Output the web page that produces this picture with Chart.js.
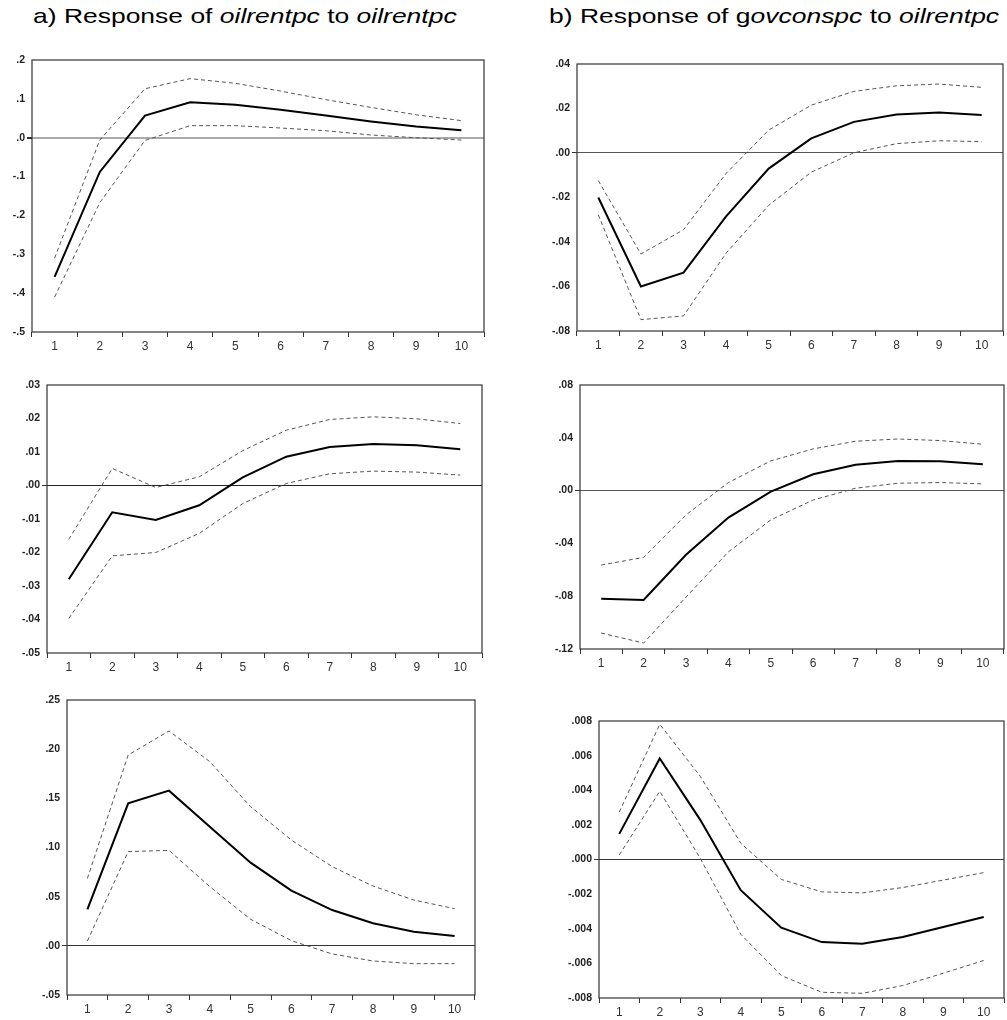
<!DOCTYPE html>
<html>
<head>
<meta charset="utf-8">
<script src="https://cdn.jsdelivr.net/npm/chart.js@4/dist/chart.umd.min.js"></script>
<style>
  body { margin: 0; background: #fff; width: 1007px; height: 1020px; position: relative; overflow: hidden; }
  .title { position: absolute; top: 5px; font: 21px/22px "Liberation Sans", Arial, sans-serif; color: #000;
           white-space: nowrap; transform: scaleX(1.26); transform-origin: 0 0; }
  canvas { position: absolute; }
</style>
</head>
<body>
<div class="title" style="left:33px">a) Response of <i>oilrentpc</i> to <i>oilrentpc</i></div>
<div class="title" style="left:549px">b) Response of g<i>ovconspc</i> to <i>oilrentpc</i></div>

<canvas id="c1"></canvas>
<canvas id="c2"></canvas>
<canvas id="c3"></canvas>
<canvas id="c4"></canvas>
<canvas id="c5"></canvas>
<canvas id="c6"></canvas>

<script>
const periods = ["1", "2", "3", "4", "5", "6", "7", "8", "9", "10"];

// top-left: oilrentpc -> oilrentpc
const irf1 = [-0.358, -0.088, 0.057, 0.091, 0.085, 0.072, 0.057, 0.042, 0.029, 0.019];
const up1 = [-0.31, -0.006, 0.126, 0.152, 0.14, 0.12, 0.098, 0.078, 0.059, 0.044];
const lo1 = [-0.41, -0.167, -0.007, 0.031, 0.031, 0.025, 0.018, 0.007, 0.0, -0.006];

// top-right: govconspc -> oilrentpc
const irf2 = [-0.020, -0.060, -0.0538, -0.0285, -0.007, 0.0066, 0.014, 0.0173, 0.0182, 0.0171];
const up2 = [-0.0124, -0.0454, -0.0345, -0.0092, 0.0103, 0.0215, 0.0277, 0.0302, 0.031, 0.0295];
const lo2 = [-0.0278, -0.0749, -0.0732, -0.045, -0.0235, -0.0086, 0.0001, 0.0042, 0.0055, 0.0051];

// middle-left
const irf3 = [-0.028, -0.008, -0.0103, -0.0059, 0.0024, 0.0086, 0.0115, 0.0124, 0.012, 0.0108];
const up3 = [-0.0161, 0.0051, -0.0006, 0.0026, 0.0104, 0.0165, 0.0197, 0.0205, 0.0199, 0.0185];
const lo3 = [-0.0397, -0.021, -0.020, -0.0143, -0.0054, 0.0006, 0.0035, 0.0043, 0.004, 0.0031];

// middle-right
const irf4 = [-0.0819, -0.0829, -0.0486, -0.0204, -0.0007, 0.0124, 0.0195, 0.0225, 0.0222, 0.020];
const up4 = [-0.0564, -0.0506, -0.0184, 0.0061, 0.0225, 0.0316, 0.0374, 0.0391, 0.0379, 0.0351];
const lo4 = [-0.1079, -0.1155, -0.0807, -0.0464, -0.0222, -0.0071, 0.0018, 0.0056, 0.0061, 0.0051];

// bottom-left
const irf5 = [0.0371, 0.1449, 0.1578, 0.1212, 0.0846, 0.0561, 0.0364, 0.0229, 0.0144, 0.010];
const up5 = [0.0686, 0.1941, 0.2185, 0.1873, 0.1415, 0.1076, 0.0805, 0.0608, 0.0466, 0.0378];
const lo5 = [0.0049, 0.0958, 0.0971, 0.0602, 0.027, 0.0053, -0.0083, -0.0154, -0.0181, -0.0181];

// bottom-right
const irf6 = [0.00148, 0.00583, 0.00229, -0.00177, -0.00394, -0.00477, -0.00487, -0.00448, -0.0039, -0.00332];
const up6 = [0.00274, 0.00781, 0.00481, 0.00094, -0.00115, -0.00187, -0.00193, -0.00162, -0.00119, -0.00076];
const lo6 = [0.00026, 0.00394, 0.00007, -0.00432, -0.0067, -0.00767, -0.00773, -0.00728, -0.00657, -0.00583];

// y axis ranges: [min, max, step, decimals]
const yRange1 = [-0.5, 0.2, 0.1, 1];
const yRange2 = [-0.08, 0.04, 0.02, 2];
const yRange3 = [-0.05, 0.03, 0.01, 2];
const yRange4 = [-0.12, 0.08, 0.04, 2];
const yRange5 = [-0.05, 0.25, 0.05, 2];
const yRange6 = [-0.008, 0.008, 0.002, 3];

Chart.defaults.font.family = "'Liberation Sans', Arial, sans-serif";
Chart.defaults.font.size = 11;
Chart.defaults.color = "#222";

const frame = {
  id: "frame",
  afterDraw(chart) {
    const a = chart.chartArea, ctx = chart.ctx;
    ctx.save();
    ctx.strokeStyle = "#333";
    ctx.lineWidth = 1.2;
    ctx.strokeRect(a.left, a.top, a.right - a.left, a.bottom - a.top);
    ctx.restore();
  }
};

const Y_W = 40, X_H = 22;

function fmt(v, dec) {
  if (Math.abs(v) < 1e-9) v = 0;
  return v.toFixed(dec).replace("0.", ".");
}

function panel(id, box, irf, up, lo, yr, zeroStyle) {
  const cv = document.getElementById(id);
  const left = box[0] - 45, top = box[2] - 10;
  const w = box[1] - box[0] + 48, h = box[3] - box[2] + 35;
  cv.width = w; cv.height = h;
  cv.style.left = left + "px"; cv.style.top = top + "px";
  cv.style.width = w + "px"; cv.style.height = h + "px";

  const band = data => ({
    data, borderColor: "#555", borderWidth: 1, borderDash: [4, 3],
    pointRadius: 0, tension: 0, fill: false
  });

  new Chart(cv, {
    type: "line",
    data: {
      labels: periods,
      datasets: [
        { data: irf, borderColor: "#000", borderWidth: 2, pointRadius: 0, tension: 0, fill: false },
        band(up),
        band(lo)
      ]
    },
    options: {
      responsive: false,
      animation: false,
      events: [],
      layout: { padding: { left: 45 - Y_W, top: 10, right: 3, bottom: 25 - X_H } },
      plugins: { legend: { display: false }, tooltip: { enabled: false } },
      scales: {
        x: {
          type: "category",
          offset: true,
          afterFit: s => { s.height = X_H; },
          border: { display: false },
          grid: { offset: true, drawOnChartArea: false, tickColor: "#333", tickLength: 5 },
          ticks: { padding: 2, maxRotation: 0, autoSkip: false, color: "#333", font: { size: 12 } }
        },
        y: {
          min: yr[0], max: yr[1],
          afterFit: s => { s.width = Y_W; },
          border: { display: false },
          grid: {
            color: c => Math.abs(c.tick.value) < 1e-9 ? zeroStyle[0] : "rgba(0,0,0,0)",
            lineWidth: c => Math.abs(c.tick.value) < 1e-9 ? zeroStyle[1] : 0,
            tickColor: "#333",
            tickLength: 5
          },
          ticks: {
            stepSize: yr[2],
            padding: 2,
            font: { size: 10.5, weight: "bold" },
            callback: v => fmt(v, yr[3])
          }
        }
      }
    },
    plugins: [frame]
  });
}

panel("c1", [32, 484, 60, 332], irf1, up1, lo1, yRange1, ["#aaa", 2]);
panel("c2", [577, 1003, 64, 331], irf2, up2, lo2, yRange2, ["#555", 1]);
panel("c3", [47, 482, 385, 653], irf3, up3, lo3, yRange3, ["#222", 1]);
panel("c4", [580, 1004, 385, 649], irf4, up4, lo4, yRange4, ["#555", 1]);
panel("c5", [67, 475, 700, 995], irf5, up5, lo5, yRange5, ["#333", 1]);
panel("c6", [599, 1004, 721, 998], irf6, up6, lo6, yRange6, ["#333", 1]);
</script>
</body>
</html>
